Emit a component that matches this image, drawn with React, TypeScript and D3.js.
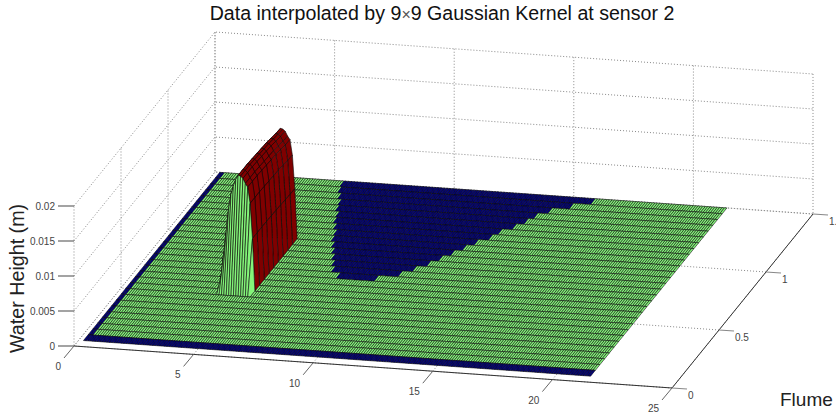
import * as d3 from "d3"

const xTicks = [0, 5, 10, 15, 20, 25]
const yTicks = [0, 0.5, 1, 1.5]
const zTicks = [0, 0.005, 0.01, 0.015, 0.02]
const zTickLabels = ["0", "0.005", "0.01", "0.015", "0.02"]

// mesh lines across the flume, front to back
const flumeY = [
  0.05, 0.1, 0.15, 0.2, 0.25, 0.3, 0.35, 0.4, 0.45, 0.5, 0.55, 0.6, 0.65, 0.7, 0.75, 0.8, 0.85, 0.9, 0.95, 1.0, 1.05,
  1.1, 1.15, 1.2, 1.25, 1.3, 1.35, 1.4, 1.45, 1.5,
]
const flumeXStart = 0.2
const flumeXEnd = 21.4
const flumeXStep = 0.1

// dry patch, per mesh row: y of the row, x where it starts, x where it ends
const dryRowY = [0.7, 0.75, 0.8, 0.85, 0.9, 0.95, 1.0, 1.05, 1.1, 1.15, 1.2, 1.25, 1.3, 1.35, 1.4, 1.45]
const dryRowStart = [8.2, 7.8, 7.6, 7.4, 7.2, 7.0, 6.8, 6.7, 6.5, 6.3, 6.2, 6.0, 5.9, 5.7, 5.5, 5.4]
const dryRowEnd = [9.8, 10.6, 11.0, 11.4, 11.7, 12.0, 12.3, 12.6, 13.0, 13.2, 13.6, 13.9, 14.1, 14.5, 15.2, 15.9]

// the wave
const waveX = [4.0, 4.1, 4.2, 4.3, 4.4, 4.5, 4.6, 4.7, 4.8, 4.9, 5.0, 5.1, 5.2, 5.3, 5.4]
const waveHeight = [
  0.002, 0.0052, 0.0082, 0.0115, 0.0136, 0.0148, 0.0158, 0.0164, 0.0163, 0.016, 0.0153, 0.0148, 0.0125, 0.0075, 0,
]
const waveY = [0.55, 0.6, 0.65, 0.7, 0.75, 0.8, 0.85, 0.9, 0.95, 1.0]
const waveFalloff = [1, 1, 1, 0.995, 0.99, 0.985, 0.98, 0.97, 0.96, 0.955]

const NAVY = "#00007e"
const GREEN = "#84f57a"
const RED = "#800000"
const FONT = "'Liberation Sans', Arial, sans-serif"

// orthographic view, MATLAB style: each data axis moves the pixel along a fixed direction
const xToPx = d3.scaleLinear().domain([0, 25]).range([74, 672])
const xToPy = d3.scaleLinear().domain([0, 25]).range([346, 388])
const yToPx = d3.scaleLinear().domain([0, 1.5]).range([0, 141])
const yToPy = d3.scaleLinear().domain([0, 1.5]).range([0, -174])
const zToPy = d3.scaleLinear().domain([0, 0.02]).range([0, -140])

type P = [number, number]
const project = (x: number, y: number, z = 0): P => [xToPx(x) + yToPx(y), xToPy(x) + yToPy(y) + zToPy(z)]

const near = (a: number, b: number) => Math.abs(a - b) < 1e-6
const heightAt = (x: number, y: number) => {
  const i = waveX.findIndex((v) => near(v, x))
  const j = waveY.findIndex((v) => near(v, y))
  return i < 0 || j < 0 ? 0 : waveHeight[i] * waveFalloff[j]
}

const cellColor = d3.scaleThreshold<number, string>().domain([0.001]).range([GREEN, RED])
const colorAt = (x: number, y: number, z: number, i: number, j: number) => {
  if (j === 0 || i < 2) return NAVY
  const d = dryRowY.findIndex((v) => near(v, y))
  if (d >= 0 && x >= dryRowStart[d] - 1e-6 && x < dryRowEnd[d] - 1e-6) return NAVY
  return cellColor(z)
}

const flumeX = d3.range(flumeXStart, flumeXEnd + flumeXStep / 2, flumeXStep).map((v) => +v.toFixed(2))
const quad = d3.line<P>().curve(d3.curveLinearClosed)
const segment = d3.line<P>()

const lastWaveY = waveY[waveY.length - 1]
const cells: { d: string; fill: string }[] = []
for (let j = flumeY.length - 2; j >= 0; j--) {
  // the wave's back face looks away from the camera: that row stays flat, the crest hides it
  const frontZ = near(flumeY[j], lastWaveY) ? () => 0 : heightAt
  for (let i = 0; i < flumeX.length - 1; i++) {
    const x0 = flumeX[i]
    const x1 = flumeX[i + 1]
    const y0 = flumeY[j]
    const y1 = flumeY[j + 1]
    cells.push({
      d:
        quad([
          project(x0, y0, frontZ(x0, y0)),
          project(x1, y0, frontZ(x1, y0)),
          project(x1, y1, heightAt(x1, y1)),
          project(x0, y1, heightAt(x0, y1)),
        ]) || "",
      fill: colorAt(x0, y0, frontZ(x0, y0), i, j),
    })
  }
}

const zTop = zTicks[zTicks.length - 1]
const xMax = xTicks[xTicks.length - 1]
const yMax = yTicks[yTicks.length - 1]

const grid: P[][] = [
  ...zTicks.map((z) => [project(0, 0, z), project(0, yMax, z), project(xMax, yMax, z)]),
  ...xTicks.map((x) => [project(x, 0), project(x, yMax), project(x, yMax, zTop)]),
  ...yTicks.map((y) => [project(xMax, y), project(0, y), project(0, y, zTop)]),
]

export default function App() {
  return (
    <svg width={836} height={412} style={{ position: "absolute", left: 0, top: 0, background: "#fff" }} fontFamily={FONT}>
      <text x={442} y={20} textAnchor="middle" fontSize={19.6} fill="#111">
        Data interpolated by 9
        <tspan fontSize={16} fill="#555">
          ×
        </tspan>
        9 Gaussian Kernel at sensor 2
      </text>

      <g fill="none" stroke="#8a8a8a" strokeWidth={1} strokeDasharray="1 2">
        {grid.map((pts, i) => (
          <path key={i} d={segment(pts) || ""} />
        ))}
      </g>

      <g stroke="#0a0a0a" strokeWidth={0.6} strokeLinejoin="round">
        {cells.map((c, i) => (
          <path key={i} d={c.d} fill={c.fill} />
        ))}
      </g>

      <g stroke="#333" strokeWidth={1}>
        <path d={segment([project(0, 0), project(xMax, 0), project(xMax, yMax)]) || ""} fill="none" />
      </g>

      <g fontSize={10} fill="#444">
        {xTicks.map((x) => {
          const [px, py] = project(x, 0)
          return (
            <g key={x}>
              <line x1={px} y1={py} x2={px - 10} y2={py + 12} stroke="#666" />
              <text x={px - 13} y={py + 24} textAnchor="end">
                {x}
              </text>
            </g>
          )
        })}
        {yTicks.map((y) => {
          const [px, py] = project(xMax, y)
          return (
            <g key={y}>
              <line x1={px} y1={py} x2={px + 15} y2={py + 1} stroke="#888" strokeWidth={1.2} />
              <text x={px + 16} y={py + 11}>
                {y}
              </text>
            </g>
          )
        })}
        {zTicks.map((z, i) => {
          const [px, py] = project(0, 0, z)
          return (
            <g key={z}>
              <line x1={px - 16} y1={py} x2={px} y2={py} stroke="#666" strokeWidth={1.2} />
              <text x={px - 19} y={py + 3.5} textAnchor="end">
                {zTickLabels[i]}
              </text>
            </g>
          )
        })}
      </g>

      <text transform="translate(24,353) rotate(-90)" fontSize={19.7} fill="#222">
        Water Height (m)
      </text>
      <text x={780} y={406} fontSize={19} fill="#222">
        Flume
      </text>
    </svg>
  )
}
